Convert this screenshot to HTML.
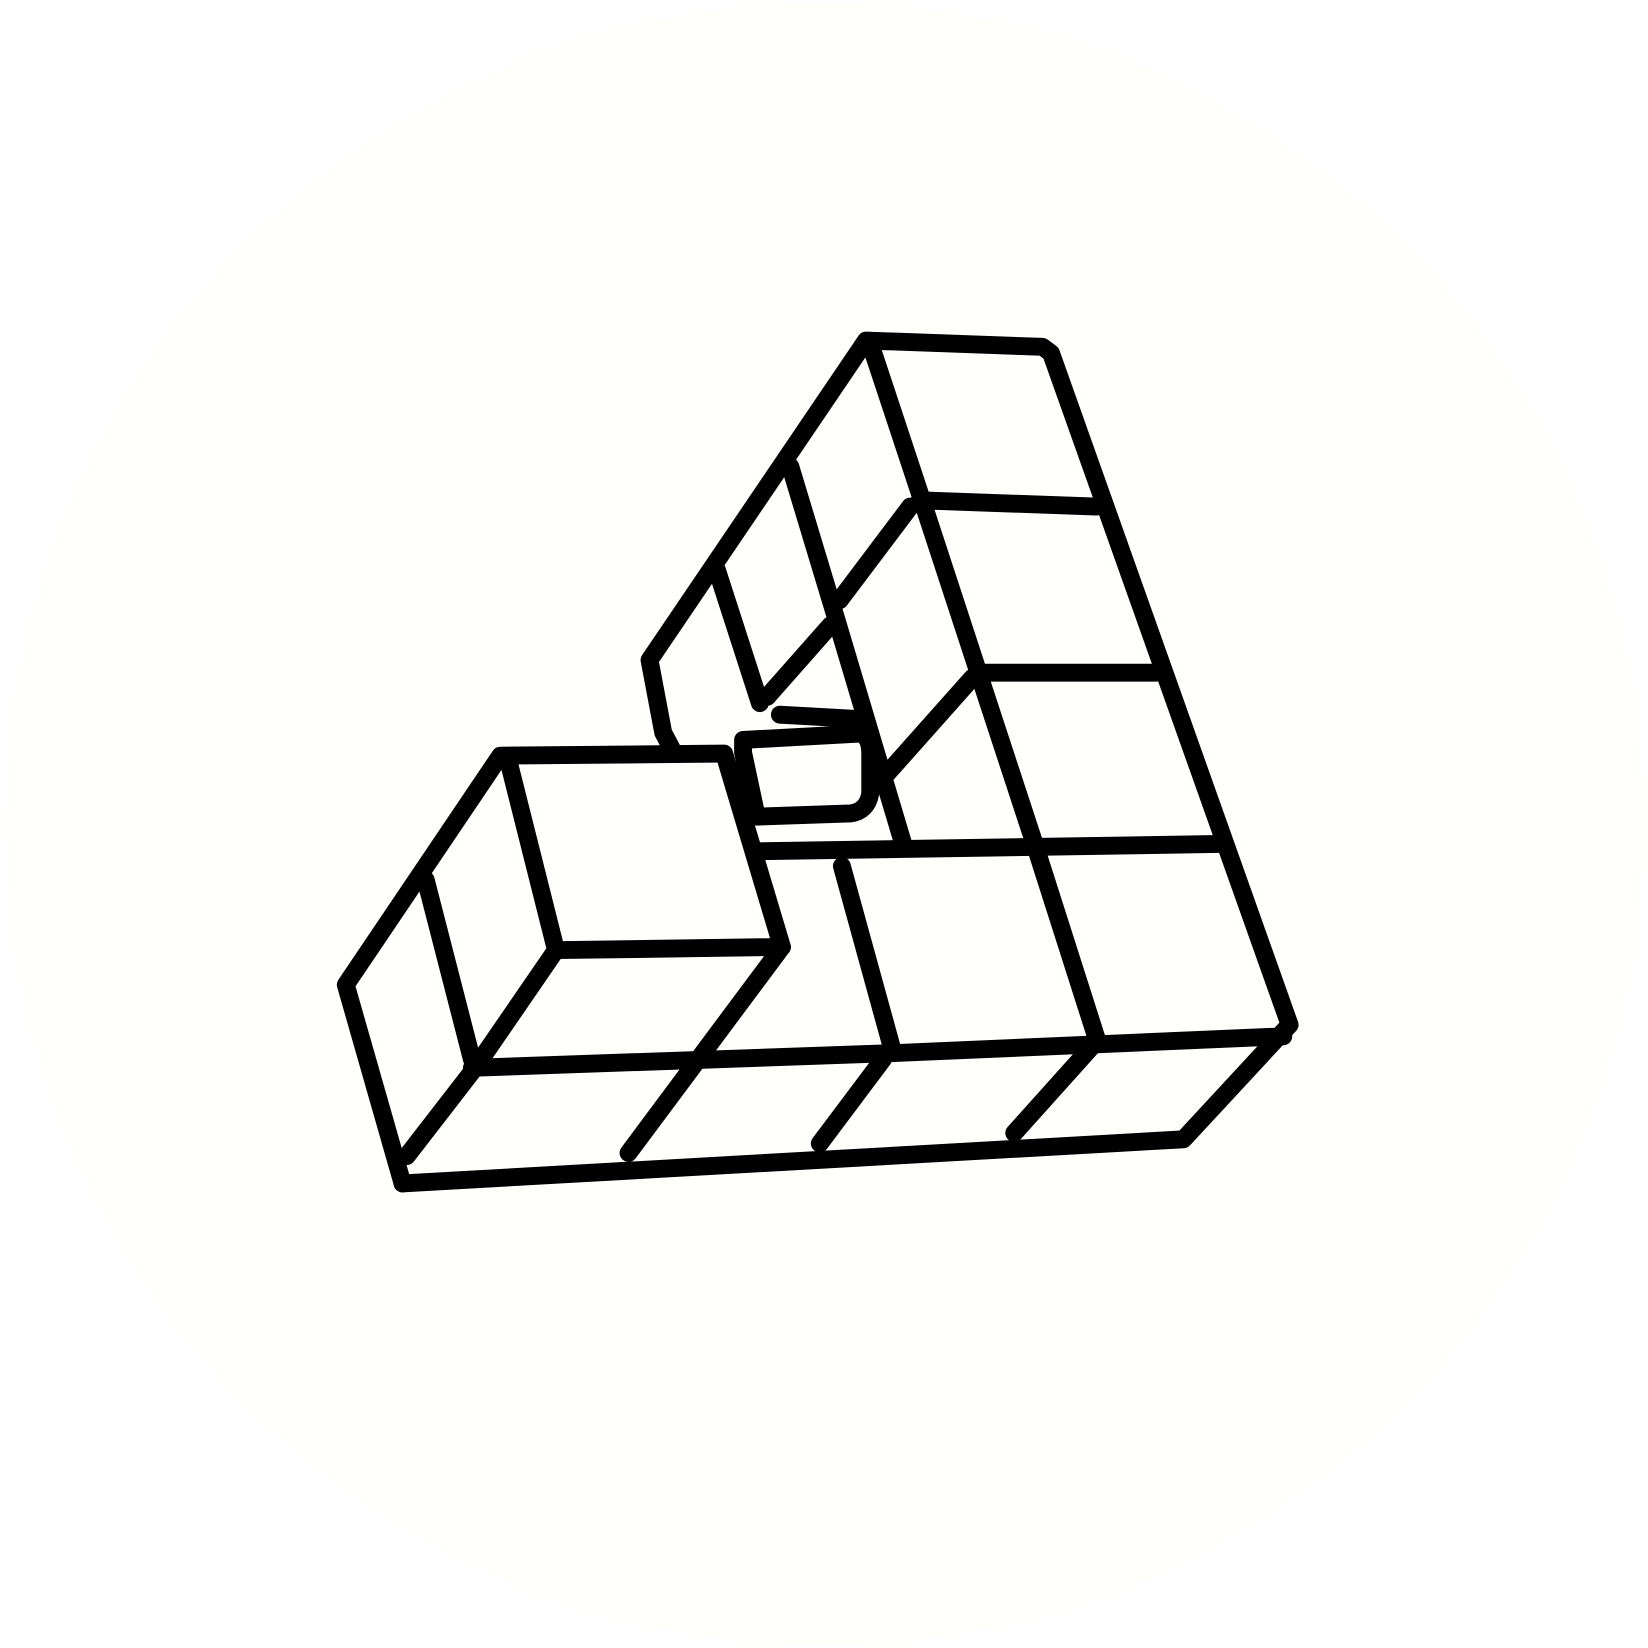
<!DOCTYPE html>
<html><head><meta charset="utf-8"><style>
html,body{margin:0;padding:0;background:#fff;width:1648px;height:1648px;overflow:hidden}
svg{display:block}
</style></head><body>
<svg width="1648" height="1648" viewBox="0 0 1568 1568" xmlns="http://www.w3.org/2000/svg">
<circle cx="784" cy="784" r="782" fill="#fffffc"/>
<g fill="none" stroke="#000" stroke-width="17" stroke-linejoin="round" stroke-linecap="round">
<path d="M383,1126 L329,937 L476,719 L689,717 L744,901 L598,1097"/>
<path d="M383,1126 L1126,1084 L1227,975 L1000,336 L992,330 L824,324 L618,628 L631,697 L640,714"/>
<path d="M405,837 L449,1008"/>
<path d="M485,729 L529,904 L744,901"/>
<path d="M387,1100 L452,1016 L529,904"/>
<path d="M449,1016 L850,1002 L1221,986"/>
<path d="M780,1088 L840,1008"/>
<path d="M965,1078 L1044,990"/>
<path d="M801,824 L850,1002"/>
<path d="M831,336 L875,469 L929,634 L985,805 L1044,990"/>
<path d="M875,476 L1043,482"/>
<path d="M932,640 L1100,640"/>
<path d="M718,810 L1160,803"/>
<path d="M752,444 L793,580 L843,748 L860,805"/>
<path d="M682,542 L723,669"/>
<path d="M866,482 L799,571"/>
<path d="M790,595 L730,663"/>
<path d="M925,645 L845,735"/>
<path d="M742,680 L815,684"/>
<path d="M707,704 L818,698 Q828,700 828,718 L828,755 Q825,772 809,774 L720,777 L707,716 Z"/>
</g>
</svg>
</body></html>
